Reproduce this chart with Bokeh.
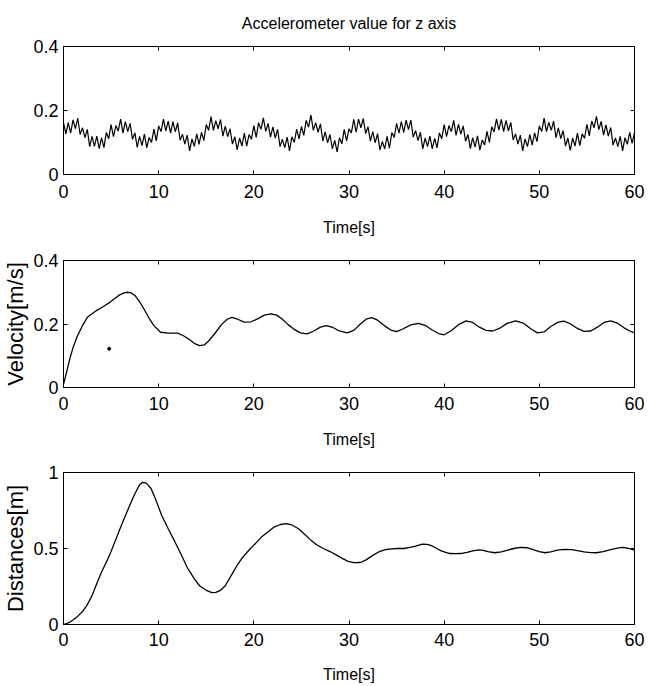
import numpy as np
from bokeh.plotting import figure
from bokeh.layouts import column
from bokeh.models import FixedTicker, Range1d, LinearAxis, CustomLabelingPolicy
from bokeh.embed import file_html
from bokeh.resources import INLINE

FONT = "Liberation Sans"

x_ticks = [0, 10, 20, 30, 40, 50, 60]
acc_yticks = [0, 0.2, 0.4]
vel_yticks = [0, 0.2, 0.4]
dist_yticks = [0, 0.5, 1]

title_text = "Accelerometer value for z axis"
x_label = "Time[s]"
vel_label = "Velocity[m/s]"
dist_label = "Distances[m]"

# accelerometer samples every 0.25 s (0 .. 60 s)
acc_step = 0.25
acc_values = [
    .162, .127, .162, .129, .171, .143, .176, .125, .146, .115,
    .141, .087, .119, .088, .120, .081, .115, .084, .131, .112,
    .156, .118, .153, .136, .173, .129, .165, .134, .160, .110,
    .130, .085, .119, .090, .126, .083, .116, .100, .142, .105,
    .152, .134, .173, .136, .167, .129, .165, .133, .161, .107,
    .126, .095, .123, .074, .111, .088, .127, .094, .132, .106,
    .156, .138, .181, .138, .168, .143, .172, .120, .151, .118,
    .143, .095, .118, .077, .114, .089, .129, .089, .125, .110,
    .153, .116, .162, .141, .177, .135, .160, .117, .149, .114,
    .141, .087, .110, .084, .117, .074, .118, .100, .142, .111,
    .150, .122, .169, .148, .186, .138, .162, .132, .158, .104,
    .133, .099, .125, .080, .107, .071, .115, .096, .141, .105,
    .143, .130, .172, .132, .173, .146, .175, .128, .149, .104,
    .134, .099, .128, .077, .103, .080, .119, .082, .131, .116,
    .160, .129, .165, .131, .170, .140, .170, .117, .137, .106,
    .132, .080, .114, .087, .120, .080, .113, .083, .130, .112,
    .156, .118, .153, .134, .169, .122, .157, .126, .152, .104,
    .125, .081, .115, .086, .121, .076, .108, .092, .135, .100,
    .149, .133, .174, .139, .172, .134, .169, .136, .163, .108,
    .127, .095, .123, .074, .111, .087, .125, .092, .130, .103,
    .152, .134, .176, .134, .163, .138, .167, .115, .146, .112,
    .137, .089, .114, .075, .114, .089, .129, .090, .127, .113,
    .157, .121, .167, .146, .182, .140, .166, .123, .155, .120,
    .147, .092, .114, .087, .119, .074, .115, .094, .132, .097,
    .132,
]
acc_time = list(np.arange(len(acc_values)) * acc_step)

vel_time = [0, 0.3, 0.7, 1.0, 1.4, 2.0, 2.5, 3.0, 3.5, 4.2, 4.9, 5.4, 5.8, 6.3, 6.7,
            7.1, 7.5, 8.0, 8.5, 9.0, 9.5, 10.2, 11, 12, 12.6, 13.2, 13.8, 14.3, 14.8,
            15.3, 16.0, 16.6, 17.2, 17.7, 18.3, 19.0, 19.7, 20.4, 21.1, 21.8, 22.4,
            23.0, 23.6, 24.2, 24.9, 25.6, 26.3, 27.0, 27.6, 28.3, 29.0, 29.8, 30.5,
            31.2, 31.8, 32.4, 33.0, 33.7, 34.4, 35.0, 35.7, 36.5, 37.3, 38.0, 38.7,
            39.4, 40.0, 40.7, 41.5, 42.3, 43.0, 43.7, 44.4, 45.1, 45.8, 46.6, 47.5,
            48.3, 49.1, 49.8, 50.5, 51.2, 52.0, 52.6, 53.3, 54.0, 54.7, 55.4, 56.1,
            56.8, 57.5, 58.2, 58.9, 59.5, 60]
vel_values = [0.01, 0.045, 0.095, 0.125, 0.158, 0.195, 0.221, 0.232, 0.243, 0.255,
              0.269, 0.28, 0.29, 0.297, 0.30, 0.298, 0.29, 0.27, 0.245, 0.218, 0.195,
              0.174, 0.171, 0.171, 0.163, 0.152, 0.138, 0.132, 0.134, 0.148, 0.174,
              0.198, 0.215, 0.221, 0.215, 0.206, 0.207, 0.216, 0.228, 0.232, 0.228,
              0.215, 0.198, 0.184, 0.172, 0.169, 0.178, 0.19, 0.195, 0.189, 0.178,
              0.172, 0.18, 0.2, 0.215, 0.22, 0.212, 0.195, 0.181, 0.176, 0.185,
              0.197, 0.202, 0.196, 0.182, 0.17, 0.166, 0.178, 0.198, 0.21, 0.205,
              0.19, 0.18, 0.178, 0.186, 0.202, 0.21, 0.203, 0.185, 0.172, 0.175,
              0.192, 0.206, 0.209, 0.2, 0.186, 0.177, 0.178, 0.19, 0.205, 0.21,
              0.203, 0.188, 0.178, 0.172]
vel_dot_time = [4.8]
vel_dot_values = [0.122]

dist_time = [0, 0.5, 1, 1.5, 2, 2.5, 3, 3.5, 4, 4.5, 5, 5.5, 6, 6.5, 7, 7.5, 8, 8.3,
             8.7, 9.2, 9.7, 10.3, 11, 11.7, 12.4, 13, 13.7, 14.3, 15, 15.6, 16, 16.5,
             17, 17.6, 18.2, 18.8, 19.5, 20.2, 20.8, 21.5, 22.1, 22.8, 23.4, 24, 24.7,
             25.3, 26, 26.6, 27.3, 28, 28.6, 29.3, 29.9, 30.5, 31.2, 31.8, 32.5, 33.2,
             33.8, 34.5, 35.1, 35.8, 36.4, 37, 37.7, 38.2, 38.6, 39.1, 39.5, 40, 40.6,
             41.2, 41.7, 42.4, 43, 43.5, 44, 44.6, 45.3, 46, 46.7, 47.3, 48, 48.7,
             49.5, 50, 50.6, 51.2, 51.9, 52.6, 53.4, 54, 54.7, 55.4, 56, 56.7, 57.5,
             58.2, 58.8, 59.4, 60]
dist_values = [0.0, 0.01, 0.03, 0.055, 0.085, 0.13, 0.19, 0.27, 0.345, 0.41, 0.48,
               0.56, 0.64, 0.715, 0.79, 0.86, 0.92, 0.935, 0.93, 0.895, 0.82, 0.72,
               0.63, 0.545, 0.455, 0.375, 0.305, 0.255, 0.225, 0.21, 0.212, 0.225,
               0.255, 0.32, 0.385, 0.44, 0.49, 0.535, 0.575, 0.61, 0.64, 0.658, 0.663,
               0.655, 0.63, 0.595, 0.555, 0.525, 0.5, 0.48, 0.46, 0.435, 0.415, 0.407,
               0.408, 0.425, 0.455, 0.48, 0.493, 0.498, 0.5, 0.5, 0.507, 0.515, 0.528,
               0.527, 0.52, 0.505, 0.49, 0.478, 0.467, 0.466, 0.467, 0.475, 0.485,
               0.49, 0.489, 0.48, 0.472, 0.478, 0.49, 0.5, 0.507, 0.505, 0.49, 0.48,
               0.472, 0.478, 0.489, 0.494, 0.493, 0.486, 0.478, 0.473, 0.472, 0.48,
               0.493, 0.503, 0.507, 0.5, 0.489]


def make_panel(height, top, bottom, yrange, yticks, ylabel, xstand, xlstand, title=None):
    p = figure(width=648, height=height, x_range=Range1d(0, 60), y_range=Range1d(*yrange),
               output_backend="svg", toolbar_location=None,
               min_border_left=63, min_border_right=14,
               min_border_top=top, min_border_bottom=bottom)
    p.xgrid.visible = False
    p.ygrid.visible = False
    p.outline_line_color = "black"
    p.outline_line_width = 1
    p.background_fill_color = "white"
    p.border_fill_color = "white"

    # extra axes: only the inner ticks on top and right, no labels
    top_ax = LinearAxis(ticker=FixedTicker(ticks=x_ticks))
    right_ax = LinearAxis(ticker=FixedTicker(ticks=yticks))
    p.add_layout(top_ax, "above")
    p.add_layout(right_ax, "right")
    for ax in (top_ax, right_ax):
        ax.major_label_text_font_size = "1px"
        ax.major_label_standoff = 0
        ax.major_label_policy = CustomLabelingPolicy(code="return []")

    for ax in p.axis:
        ax.axis_line_color = "black"
        ax.major_tick_line_color = "black"
        ax.major_tick_in = 4
        ax.major_tick_out = 0
        ax.minor_tick_line_color = None

    xa = p.below[0]
    xa.ticker = FixedTicker(ticks=x_ticks)
    xa.major_label_text_font = FONT
    xa.major_label_text_font_size = "18px"
    xa.major_label_text_color = "black"
    xa.major_label_standoff = xstand
    xa.axis_label = x_label
    xa.axis_label_text_font = FONT
    xa.axis_label_text_font_size = "16px"
    xa.axis_label_text_font_style = "normal"
    xa.axis_label_text_color = "black"
    xa.axis_label_standoff = xlstand

    ya = p.left[0]
    ya.ticker = FixedTicker(ticks=yticks)
    ya.major_label_text_font = FONT
    ya.major_label_text_font_size = "18px"
    ya.major_label_text_color = "black"
    ya.major_label_standoff = 5
    if ylabel:
        ya.axis_label = ylabel
        ya.axis_label_text_font = FONT
        ya.axis_label_text_font_size = "22px"
        ya.axis_label_text_font_style = "normal"
        ya.axis_label_text_color = "black"
        ya.axis_label_standoff = 2

    if title:
        p.title.text = title
        p.title.align = "center"
        p.title.text_font = FONT
        p.title.text_font_size = "16px"
        p.title.text_font_style = "normal"
        p.title.text_color = "black"
        p.title.standoff = 22
    return p


p1 = make_panel(240, 46, 66, (0, 0.4), acc_yticks, None, 10, 18, title_text)
p1.line(acc_time, acc_values, line_color="black", line_width=1.2)

p2 = make_panel(210, 20, 63, (0, 0.4), vel_yticks, vel_label, 9, 18)
p2.line(vel_time, vel_values, line_color="black", line_width=1.3)
p2.scatter(vel_dot_time, vel_dot_values, size=3, color="black")

p3 = make_panel(235, 22, 59, (0, 1), dist_yticks, dist_label, 8, 17)
p3.line(dist_time, dist_values, line_color="black", line_width=1.3)

layout = column(p1, p2, p3, spacing=0)
open("out.html", "w").write(file_html(layout, INLINE))
